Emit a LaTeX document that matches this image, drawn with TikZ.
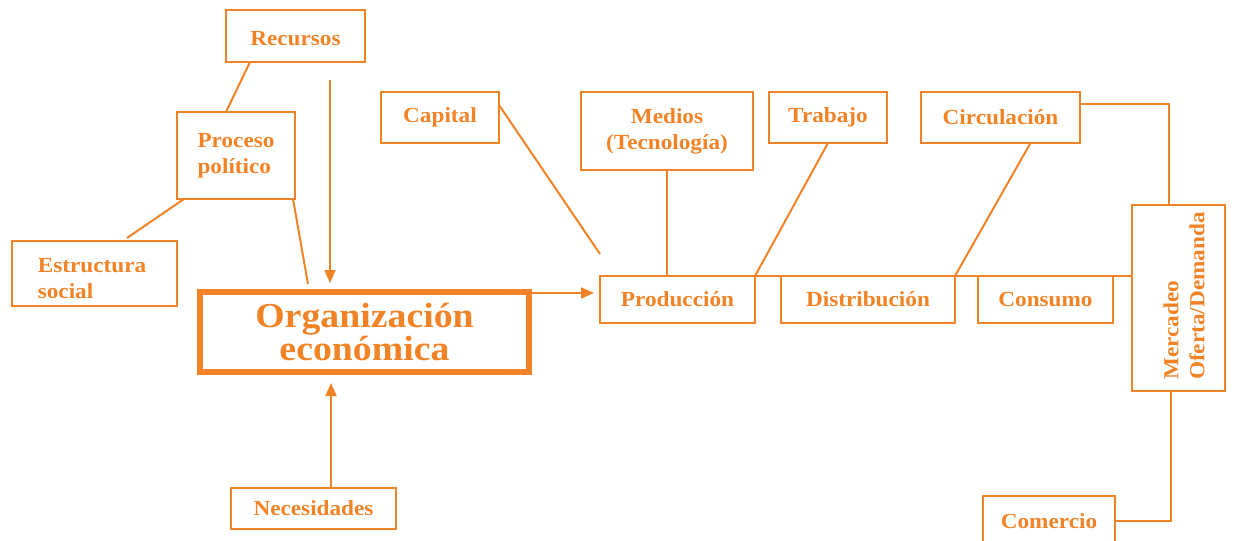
\documentclass[tikz,border=0pt]{standalone}
\usepackage{fontspec}
\setmainfont{Liberation Serif}[FakeStretch=1.08]
\usetikzlibrary{arrows.meta,calc}
\definecolor{orn}{RGB}{241,131,38}
\begin{document}
\begin{tikzpicture}[x=1pt,y=-1pt]
\tikzset{
 box/.style={draw=orn,line width=2pt,text=orn,font=\fontsize{21.5}{26}\selectfont\bfseries,align=center,inner sep=0pt,outer sep=0pt},
 link/.style={draw=orn,line width=2pt},
 arr/.style={link,-{Triangle[length=13pt,width=11pt]}}
}
\useasboundingbox (0,0) rectangle (1235,541);
\node[box,minimum width=139pt,minimum height=52pt,text height=19pt,text depth=0pt] (rec) at (295.5,36) {Recursos};
\node[box,minimum width=118pt,minimum height=87pt,align=left] (proc) at (236,155.5) {Proceso\\político};
\node[box,minimum width=165pt,minimum height=65pt] (est) at (94.5,273.5) {};
\node[box,draw=none,align=left] (estt) at (92,279) {Estructura\\social};
\node[box,line width=6pt,minimum width=329pt,minimum height=80pt,font=\fontsize{35}{27}\selectfont\bfseries] (org) at (364.5,332) {Organización\\económica};
\node[box,minimum width=165pt,minimum height=41pt] (nec) at (313.5,508.5) {Necesidades};
\node[box,minimum width=118pt,minimum height=51pt] (cap) at (440,117.5) {Capital};
\node[box,minimum width=172pt,minimum height=78pt] (med) at (667,131) {Medios\\(Tecnología)};
\node[box,minimum width=118pt,minimum height=51pt] (tra) at (828,117.5) {Trabajo};
\node[box,minimum width=159pt,minimum height=51pt] (cir) at (1000.5,117.5) {Circulación};
\node[box,minimum width=155pt,minimum height=47pt] (pro) at (677.5,299.5) {Producción};
\node[box,minimum width=174pt,minimum height=47pt] (dis) at (868,299.5) {Distribución};
\node[box,minimum width=135pt,minimum height=47pt] (con) at (1045.5,299.5) {Consumo};
\node[box,minimum width=93pt,minimum height=186pt] (mer) at (1178.5,298) {};
\node[box,draw=none,rotate=90,align=left] (mert) at (1184,296) {Mercadeo\\Oferta/Demanda};
\node[box,minimum width=132pt,minimum height=50pt] (com) at (1049,521) {Comercio};
\coordinate (capend) at (600,254);
\coordinate (polend) at (308,284);
\coordinate (rtop) at (330,80);
\coordinate (rbot) at (330,283);
\coordinate (nbot) at (331,383);
\draw[link] ([xshift=24pt]rec.south west) -- ([xshift=49pt]proc.north west);
\draw[link] ([xshift=7pt]proc.south west) -- ([xshift=32.5pt,yshift=3pt]est.north);
\draw[link] ([xshift=-2pt]proc.south east) -- (polend);
\draw[arr] (rtop) -- (rbot);
\draw[arr] (nec.north -| nbot) -- (nbot);
\draw[arr,shorten >=6pt] ([yshift=-1pt]org.north east) -- ([yshift=-1pt]org.north east -| pro.west);
\draw[link] ([yshift=-13pt]cap.north east) -- (capend);
\draw[link] (med.south) -- (med.south |- pro.north);
\draw[link] (tra.south) -- (pro.north east);
\draw[link] ([xshift=30pt]cir.south) -- (dis.north east);
\draw[link] (pro.north east) -- (pro.north east -| mer.west);
\draw[link] ([yshift=-12pt]cir.north east) -| ([xshift=-10pt]mer.north);
\draw[link] ([xshift=-8pt]mer.south) |- (com.east);
\end{tikzpicture}
\end{document}
